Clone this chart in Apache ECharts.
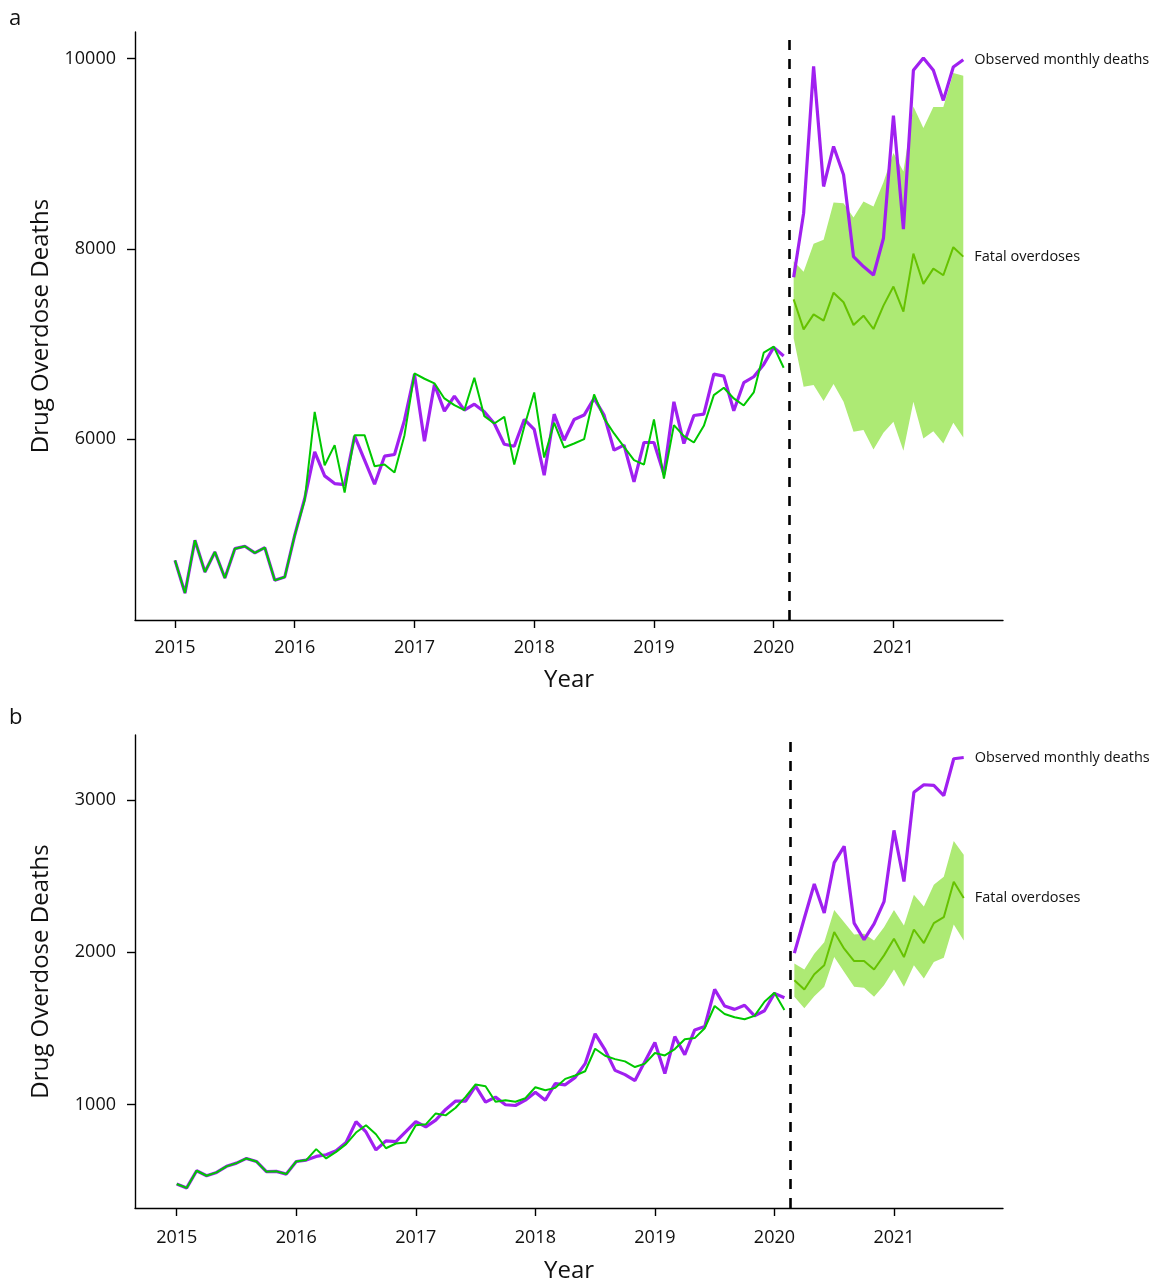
<!DOCTYPE html>
<html>
<head>
<meta charset="utf-8">
<script src="https://cdn.jsdelivr.net/npm/echarts@6/dist/echarts.min.js"></script>
<style>
  html, body { margin: 0; padding: 0; background: #ffffff; }
  #chart { width: 1157px; height: 1284px; }
</style>
</head>
<body>
<div id="chart"></div>
<script>
// Monthly drug overdose deaths, Jan 2015 - Feb 2020 (pre-period) and
// Mar 2020 - Aug 2021 (pandemic period with counterfactual forecast band).

const YEAR_TICKS = [2015, 2016, 2017, 2018, 2019, 2020, 2021];
const PRE_START = 2015;            // January 2015
const POST_START = 2020 + 2 / 12;  // March 2020
const CUTOFF = 2020.125;           // start of the pandemic period

// ---- Panel a ----
const aTicks = [6000, 8000, 10000];
const aObservedPre = [
  4726, 4382, 4937, 4603, 4814, 4540, 4849, 4874, 4804, 4860, 4516, 4551,
  4990, 5376, 5867, 5614, 5533, 5523, 6032, 5779, 5526, 5821, 5839, 6200,
  6681, 5979, 6575, 6295, 6453, 6305, 6368, 6287, 6165, 5947, 5926, 6207,
  6102, 5621, 6263, 5989, 6207, 6253, 6428, 6253, 5884, 5937, 5551, 5965,
  5965, 5632, 6393, 5954, 6249, 6263, 6684, 6663, 6298, 6593, 6656, 6786,
  6965, 6874
];
const aFittedPre = [
  4726, 4382, 4937, 4603, 4814, 4540, 4849, 4874, 4804, 4860, 4516, 4551,
  4990, 5360, 6287, 5726, 5937, 5439, 6042, 6042, 5716, 5733, 5649, 6042,
  6691, 6635, 6586, 6428, 6358, 6305, 6645, 6242, 6165, 6235, 5733, 6130,
  6491, 5807, 6172, 5912, 5954, 6000, 6470, 6218, 6060, 5919, 5779, 5733,
  6207, 5586, 6147, 6032, 5965, 6140, 6463, 6540, 6428, 6354, 6491, 6909,
  6972, 6751
];
const aObservedPost = [7702, 8376, 9919, 8656, 9077, 8779, 7919, 7814, 7726, 8112, 9400, 8207, 9877, 10007, 9877, 9561, 9912, 9989];
const aFittedPost   = [7470, 7154, 7312, 7246, 7540, 7439, 7200, 7298, 7158, 7404, 7604, 7340, 7951, 7632, 7793, 7723, 8018, 7919];
const aUpper        = [7870, 7761, 8053, 8095, 8488, 8481, 8330, 8498, 8446, 8700, 9007, 8814, 9498, 9270, 9491, 9491, 9849, 9821];
const aLower        = [7060, 6551, 6568, 6400, 6579, 6393, 6077, 6095, 5891, 6067, 6182, 5877, 6393, 6007, 6084, 5954, 6172, 6018];

// ---- Panel b ----
const bTicks = [1000, 2000, 3000];
const bObservedPre = [
  477, 451, 564, 531, 553, 593, 614, 645, 625, 558, 560, 542,
  625, 634, 658, 669, 695, 750, 887, 819, 701, 760, 756, 821,
  887, 852, 897, 967, 1022, 1022, 1120, 1015, 1048, 998, 993, 1028,
  1080, 1028, 1137, 1129, 1178, 1268, 1464, 1359, 1224, 1196, 1157, 1283,
  1407, 1203, 1446, 1327, 1490, 1512, 1756, 1647, 1625, 1652, 1582, 1616,
  1730, 1701
];
const bFittedPre = [
  477, 451, 564, 531, 553, 593, 614, 645, 625, 558, 560, 542,
  625, 634, 706, 645, 688, 739, 815, 863, 804, 712, 743, 750,
  863, 869, 941, 928, 978, 1050, 1131, 1120, 1018, 1028, 1018, 1041,
  1113, 1093, 1109, 1168, 1190, 1218, 1366, 1320, 1298, 1283, 1246, 1268,
  1338, 1322, 1364, 1429, 1436, 1501, 1647, 1595, 1573, 1560, 1582, 1675,
  1734, 1621
];
const bObservedPost = [1995, 2224, 2449, 2259, 2590, 2697, 2192, 2083, 2187, 2333, 2802, 2466, 3052, 3102, 3098, 3031, 3273, 3281];
const bFittedPost   = [1817, 1756, 1856, 1915, 2133, 2024, 1943, 1943, 1887, 1980, 2089, 1969, 2150, 2061, 2192, 2231, 2464, 2357];
const bUpper        = [1926, 1887, 1991, 2067, 2279, 2198, 2118, 2122, 2078, 2165, 2279, 2176, 2379, 2301, 2444, 2497, 2732, 2641];
const bLower        = [1708, 1632, 1712, 1773, 1969, 1871, 1773, 1767, 1708, 1784, 1887, 1773, 1915, 1828, 1937, 1965, 2183, 2078];

// ---- styling ----
const FONT = '"Open Sans", "Noto Sans", sans-serif';
const PURPLE = '#A020F0';
const GREEN = '#00C800';
const FIT_GREEN = '#66C200';
const BAND = '#ADEA74';
const INK = '#111111';

// decimal-year positions for monthly values
const monthly = (start, values) => values.map((v, i) => [start + i / 12, v]);

// forecast interval drawn as one polygon: lower edge left-to-right, upper edge back
function makeBandSeries(idx, lower, upper) {
  const rows = lower.map((lo, i) => [POST_START + i / 12, lo, upper[i]]);
  return {
    type: 'custom', xAxisIndex: idx, yAxisIndex: idx, silent: true,
    data: rows,
    encode: { x: 0, y: [1, 2] },
    renderItem: function (params, api) {
      if (params.dataIndex !== 0) return null;
      const bottom = rows.map(r => api.coord([r[0], r[1]]));
      const top = rows.map(r => api.coord([r[0], r[2]])).reverse();
      return {
        type: 'polygon',
        shape: { points: bottom.concat(top) },
        style: { fill: BAND, stroke: null }
      };
    },
    z: 1
  };
}

function panel(idx, cfg) {
  const grid = { left: 135, width: 868, top: cfg.top, height: cfg.height, containLabel: false };
  const xAxis = {
    gridIndex: idx, type: 'value', min: cfg.xMin, max: cfg.xMax,
    name: 'Year', nameLocation: 'middle', nameGap: cfg.xNameGap,
    nameTextStyle: { fontFamily: FONT, fontSize: 24, color: INK },
    axisLine: { show: true, onZero: false, lineStyle: { color: '#000', width: 1.4 } },
    axisTick: { show: true, customValues: YEAR_TICKS, length: 8, lineStyle: { color: '#000', width: 1.4 } },
    axisLabel: { customValues: YEAR_TICKS, formatter: v => String(v), fontFamily: FONT, fontSize: 18, color: INK, margin: cfg.xLabelMargin },
    splitLine: { show: false }
  };
  const yAxis = {
    gridIndex: idx, type: 'value', min: cfg.yMin, max: cfg.yMax,
    name: 'Drug Overdose Deaths', nameLocation: 'middle', nameGap: 82,
    nameTextStyle: { fontFamily: FONT, fontSize: 24, color: INK },
    axisLine: { show: true, onZero: false, lineStyle: { color: '#000', width: 1.4 } },
    axisTick: { show: true, customValues: cfg.yTicks, length: 8, lineStyle: { color: '#000', width: 1.4 } },
    axisLabel: { customValues: cfg.yTicks, formatter: v => String(v), fontFamily: FONT, fontSize: 18, color: INK, margin: 19 },
    splitLine: { show: false }
  };
  const base = { xAxisIndex: idx, yAxisIndex: idx, type: 'line', symbol: 'none', silent: true, z: 3 };
  const series = [
    makeBandSeries(idx, cfg.lower, cfg.upper),
    Object.assign({}, base, {
      data: monthly(PRE_START, cfg.obsPre),
      lineStyle: { color: PURPLE, width: 3.2 },
      markLine: {
        silent: true, symbol: ['none', 'none'], label: { show: false },
        lineStyle: { color: '#000', width: 2.6, type: [10, 9] },
        data: [{ xAxis: CUTOFF }]
      }
    }),
    Object.assign({}, base, {
      data: monthly(PRE_START, cfg.fitPre),
      lineStyle: { color: GREEN, width: 2 }
    }),
    Object.assign({}, base, {
      data: monthly(POST_START, cfg.obsPost),
      lineStyle: { color: PURPLE, width: 3.2 },
      endLabel: { show: true, formatter: 'Observed monthly deaths', distance: 11, fontFamily: FONT, fontSize: 14.5, color: INK }
    }),
    Object.assign({}, base, {
      data: monthly(POST_START, cfg.fitPost),
      lineStyle: { color: FIT_GREEN, width: 2 },
      endLabel: { show: true, formatter: 'Fatal overdoses', distance: 11, fontFamily: FONT, fontSize: 14.5, color: INK }
    })
  ];
  return { grid, xAxis, yAxis, series };
}

const pa = panel(0, {
  top: 32, height: 588, xMin: 2014.666, xMax: 2021.915, yMin: 4099, yMax: 10280,
  yTicks: aTicks, xNameGap: 48, xLabelMargin: 19,
  obsPre: aObservedPre, fitPre: aFittedPre, obsPost: aObservedPost, fitPost: aFittedPost,
  upper: aUpper, lower: aLower
});
const pb = panel(1, {
  top: 735, height: 476, xMin: 2014.651, xMax: 2021.912, yMin: 319, yMax: 3429,
  yTicks: bTicks, xNameGap: 51, xLabelMargin: 21,
  obsPre: bObservedPre, fitPre: bFittedPre, obsPost: bObservedPost, fitPost: bFittedPost,
  upper: bUpper, lower: bLower
});

const chart = echarts.init(document.getElementById('chart'), null, { renderer: 'canvas' });
chart.setOption({
  animation: false,
  backgroundColor: '#ffffff',
  grid: [pa.grid, pb.grid],
  xAxis: [pa.xAxis, pb.xAxis],
  yAxis: [pa.yAxis, pb.yAxis],
  series: pa.series.concat(pb.series),
  graphic: [
    { type: 'text', left: 9, top: 8, style: { text: 'a', fontFamily: FONT, fontSize: 22, fill: INK } },
    { type: 'text', left: 9, top: 707, style: { text: 'b', fontFamily: FONT, fontSize: 22, fill: INK } }
  ]
});
</script>
</body>
</html>
